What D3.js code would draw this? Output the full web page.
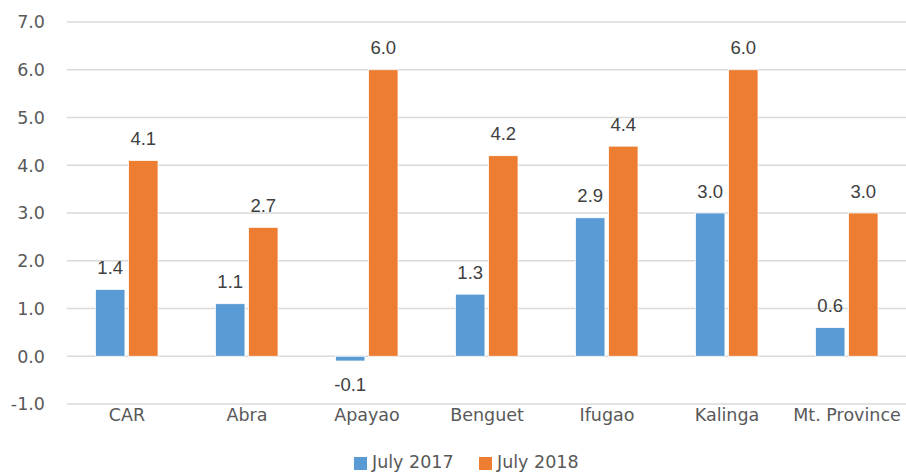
<!DOCTYPE html>
<html>
<head>
<meta charset="utf-8">
<script src="https://cdn.jsdelivr.net/npm/d3@7"></script>
<style>
  body { margin: 0; background: #fff; }
  svg { display: block; font-family: "DejaVu Sans", sans-serif; }
</style>
</head>
<body>
<svg id="chart" width="906" height="472"></svg>
<script>
// Growth rates by province
const categories = ["CAR", "Abra", "Apayao", "Benguet", "Ifugao", "Kalinga", "Mt. Province"];
const seriesNames = ["July 2017", "July 2018"];
const july2017 = [1.4, 1.1, -0.1, 1.3, 2.9, 3.0, 0.6];
const july2018 = [4.1, 2.7, 6.0, 4.2, 4.4, 6.0, 3.0];
const yTicks = [-1, 0, 1, 2, 3, 4, 5, 6, 7];
const colors = ["#5B9BD5", "#ED7D31"];

const fmt = v => d3.format(".1f")(v).replace("\u2212", "-");

const svg = d3.select("#chart");
const margin = { left: 67, right: -1, top: 22, bottom: 68 };
const width = 906 - margin.left - margin.right;
const height = 472 - margin.top - margin.bottom;

const g = svg.append("g").attr("transform", `translate(${margin.left},${margin.top})`);

const x = d3.scaleBand().domain(categories).range([0, width]).paddingInner(0).paddingOuter(0);
const xInner = d3.scaleBand().domain(seriesNames).range([28.5, 91]).paddingInner(0.11);
const y = d3.scaleLinear().domain([-1, 7]).range([height, 0]);

// gridlines
g.selectAll("line.grid").data(yTicks).join("line")
  .attr("class", "grid")
  .attr("x1", 0).attr("x2", width)
  .attr("y1", d => y(d)).attr("y2", d => y(d))
  .attr("stroke", "#D9D9D9").attr("stroke-width", 1.3);

// y axis labels
const yAxis = d3.axisLeft(y).tickValues(yTicks).tickFormat(fmt).tickSize(0).tickPadding(22);
const ya = g.append("g").call(yAxis);
ya.select(".domain").remove();
ya.selectAll("text").attr("fill", "#595959").attr("dy", "0.34em")
  .style("font-size", "17.5px").style("font-family", "'DejaVu Sans', sans-serif");

// x axis labels
const xAxis = d3.axisBottom(x).tickSize(0).tickPadding(5);
const xa = g.append("g").attr("transform", `translate(0,${height})`).call(xAxis);
xa.select(".domain").remove();
xa.selectAll("text").attr("fill", "#595959")
  .style("font-size", "17.5px").style("font-family", "'DejaVu Sans', sans-serif");

const rows = categories.map((c, i) => ({ cat: c, vals: [july2017[i], july2018[i]] }));

const groups = g.selectAll("g.cat").data(rows).join("g")
  .attr("class", "cat")
  .attr("transform", d => `translate(${x(d.cat)},0)`);

groups.selectAll("rect").data(d => d.vals.map((v, j) => ({ v, s: seriesNames[j], j }))).join("rect")
  .attr("x", d => xInner(d.s))
  .attr("width", xInner.bandwidth())
  .attr("y", d => y(Math.max(0, d.v)))
  .attr("height", d => Math.abs(y(d.v) - y(0)))
  .attr("fill", d => colors[d.j])
  .attr("stroke", "#fff").attr("stroke-width", 0.75);

groups.selectAll("text.val").data(d => d.vals.map((v, j) => ({ v, s: seriesNames[j], j }))).join("text")
  .attr("class", "val")
  .attr("x", d => xInner(d.s) + xInner.bandwidth() / 2)
  .attr("y", d => d.v >= 0 ? y(d.v) - 15.5 : y(d.v) + 30)
  .attr("text-anchor", "middle")
  .attr("fill", "#404040")
  .style("font-family", "'Liberation Sans', Arial, sans-serif")
  .style("font-size", "18.5px")
  .text(d => fmt(d.v));

// legend
const legend = svg.append("g").attr("transform", "translate(354,457)");
const legendX = [0, 125];
seriesNames.forEach((s, i) => {
  const lg = legend.append("g").attr("transform", `translate(${legendX[i]},0)`);
  lg.append("rect").attr("width", 13).attr("height", 13).attr("fill", colors[i]);
  lg.append("text").attr("x", 18).attr("y", 11).attr("fill", "#595959")
    .style("font-size", "17.5px").text(s);
});
</script>
</body>
</html>
